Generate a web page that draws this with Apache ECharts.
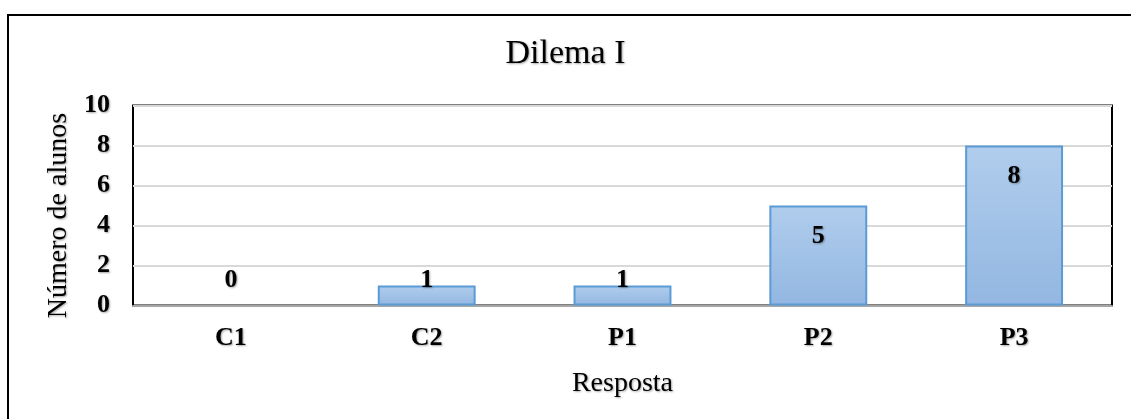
<!DOCTYPE html>
<html>
<head>
<meta charset="utf-8">
<script src="https://cdn.jsdelivr.net/npm/echarts@6/dist/echarts.min.js"></script>
<style>
html,body{margin:0;padding:0;background:#fff;}
#c{width:1131px;height:419px;}
</style>
</head>
<body>
<div id="c"></div>
<script>
var categories = ['C1', 'C2', 'P1', 'P2', 'P3'];
var values = [0, 1, 1, 5, 8];
var yTicks = [0, 2, 4, 6, 8, 10];
var titleText = 'Dilema I';
var xName = 'Resposta';
var yName = 'Número de alunos';

var FONT = '"Liberation Serif", "Times New Roman", serif';
var SHADOW = {textShadowColor: 'rgba(0,0,0,0.35)', textShadowBlur: 2, textShadowOffsetX: 1, textShadowOffsetY: 1};
function ts(o) { return Object.assign({}, SHADOW, o); }

var chart = echarts.init(document.getElementById('c'), null, {renderer: 'canvas'});

var data = values.map(function (v) {
  var small = v < 3;
  var item = {
    value: v,
    label: small ? {position: 'insideBottom', distance: 12} : {position: 'insideTop', distance: 18}
  };
  if (v === 0) { item.itemStyle = {borderWidth: 0}; }
  return item;
});

chart.setOption({
  animation: false,
  backgroundColor: '#fff',
  title: {
    text: titleText,
    left: 'center',
    top: 32,
    textStyle: ts({fontFamily: FONT, fontSize: 34, fontWeight: 'normal', color: '#000'})
  },
  graphic: [{
    type: 'rect',
    shape: {x: 8, y: 15, width: 1140, height: 430},
    style: {fill: 'none', stroke: '#000', lineWidth: 2},
    silent: true
  }],
  grid: {
    left: 133, right: 19, top: 105.5, bottom: 113.5,
    show: true, borderColor: '#000', borderWidth: 2, backgroundColor: 'transparent'
  },
  xAxis: {
    type: 'category',
    data: categories,
    name: xName,
    nameLocation: 'middle',
    nameGap: 64,
    nameTextStyle: ts({fontFamily: FONT, fontSize: 28, color: '#000'}),
    axisLine: {show: true, lineStyle: {color: '#a6a6a6', width: 2}},
    axisTick: {show: false},
    axisLabel: ts({fontFamily: FONT, fontSize: 26, fontWeight: 'bold', color: '#000', margin: 20})
  },
  yAxis: {
    type: 'value',
    min: yTicks[0],
    max: yTicks[yTicks.length - 1],
    interval: yTicks[1] - yTicks[0],
    name: yName,
    nameLocation: 'middle',
    nameGap: 57,
    nameTextStyle: ts({fontFamily: FONT, fontSize: 28, color: '#000', padding: [0, 20, 0, 0]}),
    axisLine: {show: false},
    axisTick: {show: false},
    axisLabel: ts({fontFamily: FONT, fontSize: 26, fontWeight: 'bold', color: '#000', margin: 23}),
    splitLine: {show: true, lineStyle: {color: '#d9d9d9', width: 2}}
  },
  series: [{
    type: 'bar',
    data: data,
    barWidth: '50%',
    itemStyle: {
      color: new echarts.graphic.LinearGradient(0, 0, 0, 1, [
        {offset: 0, color: '#b0cdec'},
        {offset: 1, color: '#93b7e2'}
      ]),
      borderColor: '#5b9bd5',
      borderWidth: 2
    },
    label: ts({
      show: true,
      fontFamily: FONT,
      fontSize: 26,
      fontWeight: 'bold',
      color: '#000'
    })
  }]
});
</script>
</body>
</html>
